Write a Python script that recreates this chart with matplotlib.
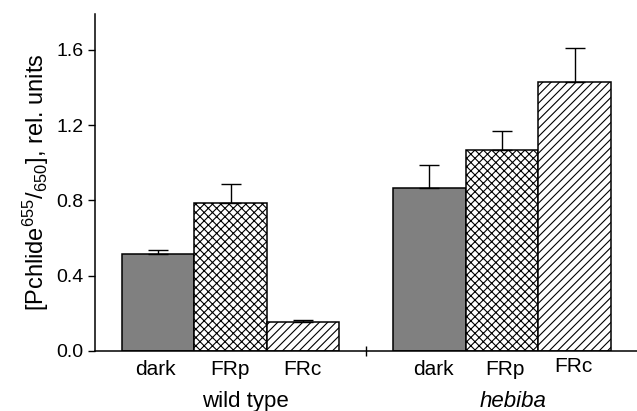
import matplotlib.pyplot as plt
import numpy as np

plt.rcParams['font.family'] = ['Liberation Sans', 'DejaVu Sans']
plt.rcParams['mathtext.fontset'] = 'custom'
plt.rcParams['mathtext.rm'] = 'Liberation Sans'
plt.rcParams['mathtext.it'] = 'Liberation Sans:italic'
plt.rcParams['hatch.linewidth'] = 0.8

groups = ['wild type', 'hebiba']
conditions = ['dark', 'FRp', 'FRc']
wild_vals = [0.515, 0.787, 0.155]
wild_err = [0.022, 0.100, 0.012]
hebiba_vals = [0.867, 1.066, 1.430]
hebiba_err = [0.122, 0.100, 0.177]

positions = [1, 2, 3, 4.74, 5.74, 6.74]
values = wild_vals + hebiba_vals
errors = wild_err + hebiba_err
faces = ['#808080', 'white', 'white'] * 2
hatches = [None, 'xxxx', '////'] * 2

fig = plt.figure(figsize=(6.37, 4.11), dpi=100)
ax = fig.add_axes([0.149, 0.146, 0.851, 0.82])

for x, v, e, fc, h in zip(positions, values, errors, faces, hatches):
    ax.bar(x, v, width=1.0, color=fc, edgecolor='black', linewidth=1.1, hatch=h, zorder=2)
    ax.errorbar(x, v, yerr=[[0], [e]], fmt='none', ecolor='black', elinewidth=1.0,
                capsize=7, capthick=1.0, zorder=3)

ax.set_xlim(0.13, 7.6)
ax.set_ylim(0, 1.79)
ax.set_yticks(np.arange(0, 1.61, 0.4))
ax.set_yticklabels(['0.0', '0.4', '0.8', '1.2', '1.6'])
ax.set_xticks([3.87])
ax.set_xticklabels([])
ax.tick_params(axis='x', direction='inout', length=7, width=1)
ax.tick_params(axis='y', direction='out', length=5, width=1, labelsize=14, pad=3)
ax.spines['top'].set_visible(False)
ax.spines['right'].set_visible(False)
ax.spines['left'].set_linewidth(1.1)
ax.spines['bottom'].set_linewidth(1.1)

ax.set_ylabel('[Pchlide$^{655}$/$_{650}$], rel. units', fontsize=17, labelpad=4)

# condition labels under each bar
label_x = [0.97, 1.99, 2.99, 4.80, 5.78, 6.72]
label_dy = [-0.027, -0.027, -0.027, -0.027, -0.027, -0.018]
for x, c, dy in zip(label_x, conditions * 2, label_dy):
    ax.text(x, dy, c, transform=ax.get_xaxis_transform(), ha='center', va='top',
            fontsize=15)

ax.text(2.20, -0.118, groups[0], transform=ax.get_xaxis_transform(), ha='center', va='top',
        fontsize=16)
ax.text(5.89, -0.118, groups[1], transform=ax.get_xaxis_transform(), ha='center', va='top',
        fontsize=16, style='italic')

fig.savefig('out.png', dpi=100)
